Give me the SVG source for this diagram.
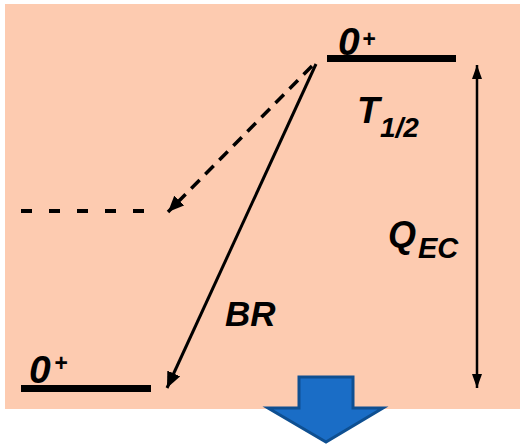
<svg xmlns="http://www.w3.org/2000/svg" width="520" height="445" viewBox="0 0 520 445">
<defs>
<style>
.t{font-family:"Liberation Sans",Arial,sans-serif;font-weight:bold;font-style:italic;fill:#000}
.lvl{stroke:#000;stroke-width:7;fill:none}
.ln{stroke:#000;fill:none}
</style>
<marker id="ah" viewBox="0 0 14 10" refX="14" refY="5" markerWidth="14" markerHeight="10" markerUnits="userSpaceOnUse" orient="auto-start-reverse">
<path d="M0,0 L14,5 L0,10 Z" fill="#000"/>
</marker>
<marker id="ah2" viewBox="0 0 16 14" refX="16" refY="7" markerWidth="16" markerHeight="14" markerUnits="userSpaceOnUse" orient="auto">
<path d="M0,0 L16,7 L0,14 Z" fill="#000"/>
</marker>
</defs>
<rect x="5" y="4" width="515" height="405" fill="#FDCBB0"/>
<g id="level-top">
<line class="lvl" x1="327" y1="58.5" x2="456" y2="58.5"/>
<text class="t" x="338" y="55" font-size="39">0</text>
<text class="t" x="362" y="47" font-size="23">+</text>
</g>
<g id="level-mid">
<line class="ln" x1="21" y1="211" x2="150" y2="211" stroke-width="4" stroke-dasharray="11 17"/>
</g>
<g id="level-bottom">
<line class="lvl" x1="21" y1="388.5" x2="151" y2="388.5"/>
<text class="t" x="29" y="383" font-size="39">0</text>
<text class="t" x="54" y="371" font-size="23">+</text>
</g>
<g id="label-T">
<text class="t" x="357" y="123" font-size="37">T</text>
<text class="t" x="380" y="137" font-size="28">1/2</text>
</g>
<g id="label-Q">
<text class="t" x="388" y="247" font-size="36">Q</text>
<text class="t" x="418" y="258" font-size="29">EC</text>
</g>
<g id="label-BR">
<text class="t" x="225" y="326" font-size="35">BR</text>
</g>
<g id="connectors">
<line class="ln" x1="312" y1="66" x2="168" y2="212" stroke-width="3.5" stroke-dasharray="12 8" marker-end="url(#ah2)"/>
<line class="ln" x1="316" y1="64" x2="167" y2="388" stroke-width="3" marker-end="url(#ah2)"/>
<line class="ln" x1="477" y1="65" x2="477" y2="388" stroke-width="2.5" marker-start="url(#ah)" marker-end="url(#ah)"/>
</g>
<g id="blue-arrow">
<path d="M299,377 L353,377 L353,408 L383,408 L326,442 L268,408 L299,408 Z" fill="#1A6DC6" stroke="#0E4F91" stroke-width="3" stroke-linejoin="miter"/>
</g>
</svg>
